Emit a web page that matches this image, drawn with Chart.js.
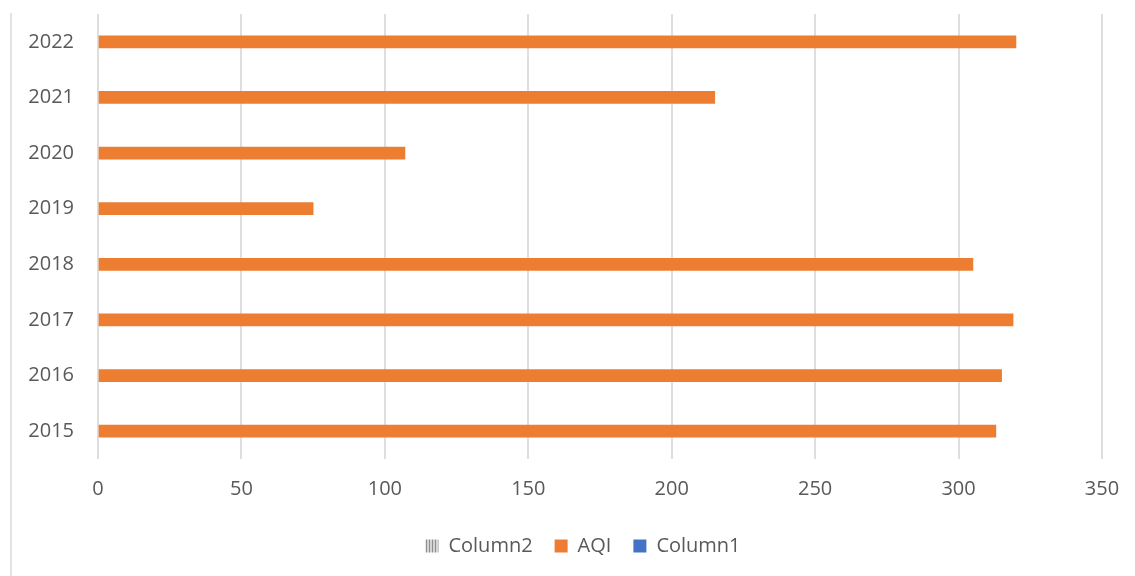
<!DOCTYPE html>
<html>
<head>
<meta charset="utf-8">
<script src="https://cdn.jsdelivr.net/npm/chart.js@4.4.1/dist/chart.umd.min.js"></script>
<style>
  html, body { margin: 0; padding: 0; background: #ffffff; }
  #wrap { position: relative; width: 1135px; height: 576px; }
  canvas { display: block; }
</style>
</head>
<body>
<div id="wrap"><canvas id="c" width="1135" height="576"></canvas></div>
<script>
// ---- data ----
const years = ['2015', '2016', '2017', '2018', '2019', '2020', '2021', '2022'];
const aqiValues = [313, 315, 319, 305, 75, 107, 215, 320];
const column2Values = [null, null, null, null, null, null, null, null];
const column1Values = [null, null, null, null, null, null, null, null];
const xTicks = [0, 50, 100, 150, 200, 250, 300, 350];

// striped pattern for Column2
function stripePattern() {
  const p = document.createElement('canvas');
  p.width = 3; p.height = 1;
  const g = p.getContext('2d');
  g.fillStyle = '#d4d4d4'; g.fillRect(0, 0, 3, 1);
  g.fillStyle = '#8f8f8f'; g.fillRect(0, 0, 1, 1);
  return g.createPattern(p, 'repeat');
}
const ctx = document.getElementById('c').getContext('2d');

const frameLine = {
  id: 'frameLine',
  afterLayout(chart) {
    if (chart.legend) { chart.legend.left += 32; chart.legend.right += 32; }
  },
  beforeDraw(chart) {
    const c = chart.ctx;
    c.save();
    c.strokeStyle = '#d9d9d9';
    c.lineWidth = 1.5;
    c.beginPath();
    c.moveTo(11, 13);
    c.lineTo(11, 576);
    c.stroke();
    c.restore();
  }
};

const txt = '#595959';
const font = { family: '"Open Sans", sans-serif', size: 20 };

new Chart(ctx, {
  type: 'bar',
  data: {
    labels: years,
    datasets: [
      { label: 'Column2', data: column2Values, backgroundColor: stripePattern(), borderWidth: 0, barThickness: 12 },
      { label: 'AQI', data: aqiValues, backgroundColor: '#ED7D31', borderWidth: 0, barThickness: 12 },
      { label: 'Column1', data: column1Values, backgroundColor: '#4472C4', borderWidth: 0, barThickness: 12 }
    ]
  },
  options: {
    indexAxis: 'y',
    responsive: false,
    animation: false,
    layout: { padding: { top: 14, right: 33, left: 0, bottom: 10 } },
    scales: {
      x: {
        min: 0, max: 350,
        afterBuildTicks(scale) { scale.ticks = xTicks.map(v => ({ value: v })); },
        afterFit(scale) { scale.height = 55; },
        grid: { color: '#dedede', lineWidth: 2, drawTicks: true, tickLength: 18, tickColor: 'rgba(0,0,0,0)' },
        border: { display: false },
        ticks: { color: txt, font: font, padding: 0, maxRotation: 0 }
      },
      y: {
        reverse: true,
        afterFit(scale) { scale.width = 98; },
        grid: { display: false, drawTicks: true, tickLength: 24 },
        border: { display: false },
        ticks: { color: txt, font: font, padding: 0 }
      }
    },
    plugins: {
      legend: {
        position: 'bottom',
        labels: { color: txt, font: font, boxWidth: 13, boxHeight: 13, padding: 22 }
      },
      tooltip: { enabled: false }
    }
  },
  plugins: [frameLine]
});
</script>
</body>
</html>
